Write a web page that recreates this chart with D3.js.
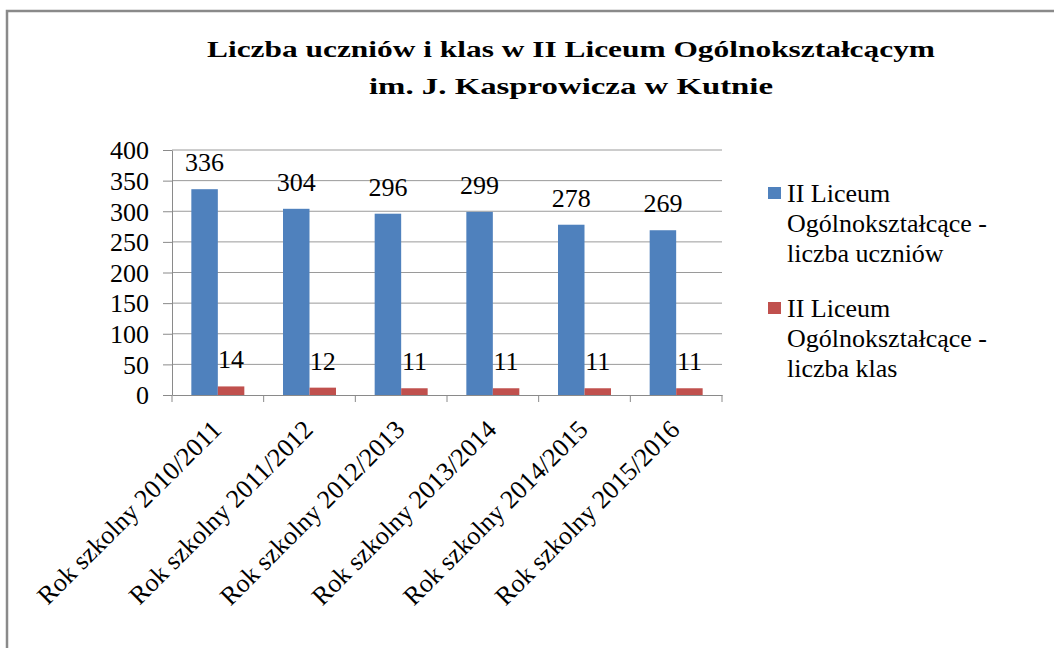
<!DOCTYPE html>
<html>
<head>
<meta charset="utf-8">
<script src="https://cdn.jsdelivr.net/npm/d3@7"></script>
<style>
  body { margin: 0; background: #fff; }
</style>
</head>
<body>
<div id="chart"></div>
<script>
let title_lines = ["Liczba uczniów i klas w II Liceum Ogólnokształcącym", "im. J. Kasprowicza w Kutnie"];
let categories = ["Rok szkolny 2010/2011", "Rok szkolny 2011/2012", "Rok szkolny 2012/2013",
                  "Rok szkolny 2013/2014", "Rok szkolny 2014/2015", "Rok szkolny 2015/2016"];
let series_names = ["uczniowie", "klasy"];
let uczniowie = [336, 304, 296, 299, 278, 269];
let klasy = [14, 12, 11, 11, 11, 11];
let legend_labels = [
    ["II Liceum", "Ogólnokształcące -", "liczba uczniów"],
    ["II Liceum", "Ogólnokształcące -", "liczba klas"]
];
let y_ticks = [0, 50, 100, 150, 200, 250, 300, 350, 400];
let colors = ["#4F81BD", "#C0504D"];

let serif = "'Liberation Serif', 'Times New Roman', Tinos, 'DejaVu Serif', serif";

let chart_width = 1054;
let chart_height = 648;

let margin_left = 172;
let margin_top = 150;
let plot_width = 550;
let plot_height = 245;

let svg = d3.select("#chart")
    .append("svg")
    .attr("width", chart_width)
    .attr("height", chart_height);

// outer frame
svg.append("rect")
    .attr("x", 7)
    .attr("y", 11)
    .attr("width", 1200)
    .attr("height", 800)
    .attr("fill", "none")
    .attr("stroke", "#8a8a8a")
    .attr("stroke-width", 2.5);

// title
let title_widths = [728, 404];
svg.selectAll(".title")
    .data(title_lines)
    .enter()
    .append("text")
    .attr("class", "title")
    .attr("x", 571)
    .attr("y", (d, i) => 57 + i * 37)
    .attr("text-anchor", "middle")
    .style("font-family", serif)
    .style("font-size", "24px")
    .style("font-weight", "bold")
    .attr("textLength", (d, i) => title_widths[i])
    .attr("lengthAdjust", "spacingAndGlyphs")
    .text(d => d);

let g = svg.append("g")
    .attr("transform", "translate(" + margin_left + "," + margin_top + ")");

let xScale = d3.scaleBand()
    .domain(categories)
    .range([0, plot_width])
    .padding(0);

let xSub = d3.scaleBand()
    .domain(series_names)
    .range([0, xScale.bandwidth()])
    .paddingInner(0)
    .paddingOuter(0.73);

let yScale = d3.scaleLinear()
    .domain([0, 400])
    .range([plot_height, 0]);

// gridlines
g.selectAll(".grid")
    .data(y_ticks.filter(d => d > 0))
    .enter()
    .append("line")
    .attr("class", "grid")
    .attr("x1", 0)
    .attr("x2", plot_width)
    .attr("y1", d => yScale(d))
    .attr("y2", d => yScale(d))
    .attr("stroke", "#9a9a9a")
    .attr("stroke-width", 1);

// y axis
let y_axis = g.append("g")
    .attr("class", "y axis")
    .call(d3.axisLeft(yScale).tickValues(y_ticks).tickSize(9).tickSizeOuter(0).tickPadding(14));
y_axis.attr("font-family", null);
y_axis.select(".domain").attr("stroke", "#8a8a8a");
y_axis.selectAll(".tick line").attr("stroke", "#8a8a8a");
y_axis.selectAll(".tick text")
    .style("font-family", serif)
    .style("font-size", "26px")
    .attr("fill", "#000")
    .attr("dy", "0.34em");

// x axis
let x_axis = g.append("g")
    .attr("class", "x axis")
    .attr("transform", "translate(0," + plot_height + ")")
    .call(d3.axisBottom(xScale).tickSize(0).tickSizeOuter(0));
x_axis.attr("font-family", null);
x_axis.select(".domain").attr("stroke", "#8a8a8a");
x_axis.selectAll(".tick line").remove();

// category boundary ticks
x_axis.selectAll(".bound")
    .data(d3.range(categories.length + 1))
    .enter()
    .append("line")
    .attr("class", "bound")
    .attr("x1", i => i * xScale.step())
    .attr("x2", i => i * xScale.step())
    .attr("y1", 0)
    .attr("y2", 7)
    .attr("stroke", "#8a8a8a");

x_axis.selectAll(".tick text")
    .style("font-family", serif)
    .style("font-size", "26px")
    .attr("fill", "#000")
    .attr("text-anchor", "end")
    .attr("dy", null)
    .attr("y", 0)
    .attr("transform", "translate(5,36) rotate(-45)");

// bars
let groups = g.selectAll(".group")
    .data(categories)
    .enter()
    .append("g")
    .attr("class", "group")
    .attr("transform", d => "translate(" + xScale(d) + ",0)");

let series_values = { uczniowie: uczniowie, klasy: klasy };

groups.selectAll("rect")
    .data((d, i) => series_names.map(s => ({ key: s, value: series_values[s][i] })))
    .enter()
    .append("rect")
    .attr("x", d => xSub(d.key))
    .attr("width", xSub.bandwidth())
    .attr("y", d => yScale(d.value))
    .attr("height", d => plot_height - yScale(d.value))
    .attr("fill", (d, i) => colors[i]);

groups.selectAll("text")
    .data((d, i) => series_names.map(s => ({ key: s, value: series_values[s][i] })))
    .enter()
    .append("text")
    .attr("x", d => xSub(d.key) + xSub.bandwidth() / 2)
    .attr("y", d => yScale(d.value) - 18)
    .attr("text-anchor", "middle")
    .style("font-family", serif)
    .style("font-size", "26px")
    .text(d => d.value);

// legend
let legend = svg.append("g")
    .attr("transform", "translate(768,187)");

let entries = legend.selectAll(".entry")
    .data(legend_labels)
    .enter()
    .append("g")
    .attr("class", "entry")
    .attr("transform", (d, i) => "translate(0," + (i * 115) + ")");

entries.append("rect")
    .attr("width", 13)
    .attr("height", 12)
    .attr("fill", (d, i) => colors[i]);

entries.append("text")
    .style("font-family", serif)
    .style("font-size", "26px")
    .selectAll("tspan")
    .data(d => d)
    .enter()
    .append("tspan")
    .attr("x", 19)
    .attr("y", (d, i) => 15 + i * 30)
    .text(d => d);
</script>
</body>
</html>
